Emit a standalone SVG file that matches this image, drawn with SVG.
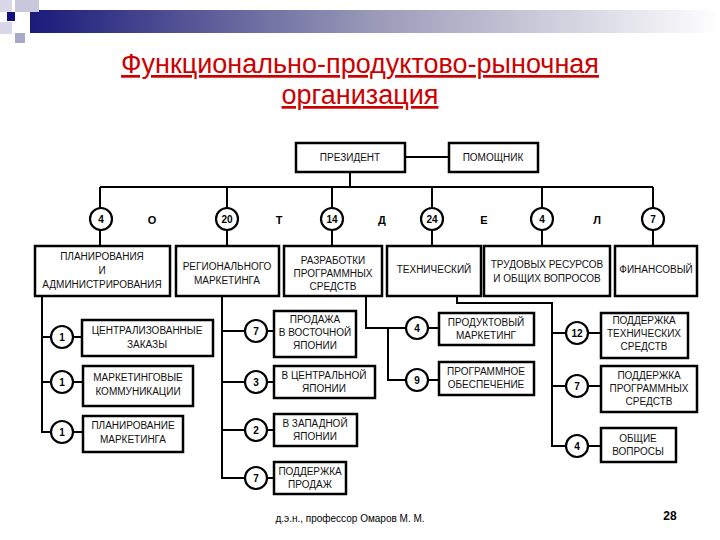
<svg xmlns="http://www.w3.org/2000/svg" width="720" height="540" viewBox="0 0 720 540">
<style>
.b{fill:#fff;stroke:#000;stroke-width:2.5}
.c{fill:#fff;stroke:#000;stroke-width:2.2}
.l{fill:none;stroke:#000;stroke-width:2}
.t{font-family:"Liberation Sans",Arial,sans-serif;font-size:10px;text-anchor:middle;fill:#111}
.n{font-family:"Liberation Sans",Arial,sans-serif;font-size:10px;font-weight:bold;text-anchor:middle;fill:#000}
</style>
<defs>
<linearGradient id="g" x1="0" x2="1" y1="0" y2="0">
<stop offset="0" stop-color="#1a1a7a"/><stop offset="0.5" stop-color="#9a9ab8"/><stop offset="1" stop-color="#ffffff"/>
</linearGradient>
</defs>
<rect width="720" height="540" fill="#fff"/>
<g id="header">
<rect x="30" y="10" width="690" height="23" fill="url(#g)"/>
<rect x="0" y="0" width="12" height="12" fill="#d8d8e8"/>
<rect x="15" y="0" width="24" height="12" fill="#c8c8dc"/>
<rect x="0" y="22" width="12" height="12" fill="#d8d8e8"/>
<rect x="15" y="33" width="10" height="10" fill="#a8a8c8"/>
<rect x="7" y="12" width="8" height="9" fill="#101080"/>
</g>
<g id="title" font-family="'Liberation Sans',Arial,sans-serif" font-size="27" fill="#cc0000" text-anchor="middle" text-decoration="underline">
<text x="360" y="73">Функционально-продуктово-рыночная</text>
<text x="360" y="104">организация</text>
</g>
<g id="connectors">
<path class="l" d="M405 157H449M350 172V187M100 187H653M100 187V246M227 187V246M332 187V246M432 187V246M542 187V246M653 187V246"/>
<path class="l" d="M42 296V432H83M42 337H82M42 382H83"/>
<path class="l" d="M222 296V478H274M222 331H274M222 382H274M222 430H274"/>
<path class="l" d="M366 296V328H439M388 328V380H439"/>
<path class="l" d="M457 296V303H552V446H601M552 333H601M552 386H601"/>
</g>
<g id="president"><rect class="b" x="296" y="143" width="109" height="29"/><text class="t" x="350" y="161">ПРЕЗИДЕНТ</text></g>
<g id="assistant"><rect class="b" x="449" y="143" width="89" height="29"/><text class="t" x="493" y="161">ПОМОЩНИК</text></g>
<g id="top-circles">
<circle class="c" cx="101" cy="219" r="11"/><text class="n" x="101" y="223">4</text>
<circle class="c" cx="227" cy="219" r="11"/><text class="n" x="227" y="223">20</text>
<circle class="c" cx="332" cy="219" r="11"/><text class="n" x="332" y="223">14</text>
<circle class="c" cx="432" cy="219" r="11"/><text class="n" x="432" y="223">24</text>
<circle class="c" cx="542" cy="219" r="11"/><text class="n" x="542" y="223">4</text>
<circle class="c" cx="653" cy="219" r="11"/><text class="n" x="653" y="223">7</text>
</g>
<g id="otdel" font-family="'Liberation Sans',Arial,sans-serif" font-size="11" font-weight="bold" text-anchor="middle">
<text x="152" y="224">О</text><text x="279" y="224">Т</text><text x="382" y="224">Д</text><text x="484" y="224">Е</text><text x="597" y="224">Л</text>
</g>
<g id="planning"><rect class="b" x="35" y="246" width="135" height="50"/><text class="t" x="102" y="260">ПЛАНИРОВАНИЯ</text><text class="t" x="102" y="274">И</text><text class="t" x="102" y="288">АДМИНИСТРИРОВАНИЯ</text></g>
<g id="regional"><rect class="b" x="176" y="246" width="103" height="50"/><text class="t" x="227" y="270">РЕГИОНАЛЬНОГО</text><text class="t" x="227" y="284">МАРКЕТИНГА</text></g>
<g id="software"><rect class="b" x="284" y="246" width="98" height="50"/><text class="t" x="333" y="264">РАЗРАБОТКИ</text><text class="t" x="333" y="277">ПРОГРАММНЫХ</text><text class="t" x="333" y="290">СРЕДСТВ</text></g>
<g id="technical"><rect class="b" x="387" y="246" width="94" height="50"/><text class="t" x="434" y="273">ТЕХНИЧЕСКИЙ</text></g>
<g id="hr"><rect class="b" x="484" y="246" width="126" height="50"/><text class="t" x="547" y="268">ТРУДОВЫХ РЕСУРСОВ</text><text class="t" x="547" y="282">И ОБЩИХ ВОПРОСОВ</text></g>
<g id="finance"><rect class="b" x="615" y="246" width="82" height="50"/><text class="t" x="656" y="273">ФИНАНСОВЫЙ</text></g>

<g id="central-orders"><rect class="b" x="82" y="320" width="131" height="36"/><circle class="c" cx="62" cy="337" r="11"/><text class="n" x="62" y="341">1</text><text class="t" x="147" y="334">ЦЕНТРАЛИЗОВАННЫЕ</text><text class="t" x="147" y="348">ЗАКАЗЫ</text></g>
<g id="mkt-comm"><rect class="b" x="83" y="366" width="110" height="40"/><circle class="c" cx="62" cy="382" r="11"/><text class="n" x="62" y="386">1</text><text class="t" x="138" y="381">МАРКЕТИНГОВЫЕ</text><text class="t" x="138" y="395">КОММУНИКАЦИИ</text></g>
<g id="mkt-plan"><rect class="b" x="83" y="416" width="100" height="36"/><circle class="c" cx="62" cy="432" r="11"/><text class="n" x="62" y="436">1</text><text class="t" x="133" y="429">ПЛАНИРОВАНИЕ</text><text class="t" x="133" y="443">МАРКЕТИНГА</text></g>

<g id="east"><rect class="b" x="274" y="311" width="82" height="46"/><circle class="c" cx="256" cy="331" r="11"/><text class="n" x="256" y="335">7</text><text class="t" x="315" y="323">ПРОДАЖА</text><text class="t" x="315" y="336">В ВОСТОЧНОЙ</text><text class="t" x="315" y="349">ЯПОНИИ</text></g>
<g id="centralj"><rect class="b" x="274" y="366" width="101" height="32"/><circle class="c" cx="256" cy="382" r="11"/><text class="n" x="256" y="386">3</text><text class="t" x="324" y="379">В ЦЕНТРАЛЬНОЙ</text><text class="t" x="324" y="392">ЯПОНИИ</text></g>
<g id="west"><rect class="b" x="274" y="414" width="83" height="32"/><circle class="c" cx="256" cy="430" r="11"/><text class="n" x="256" y="434">2</text><text class="t" x="315" y="427">В ЗАПАДНОЙ</text><text class="t" x="315" y="440">ЯПОНИИ</text></g>
<g id="sales"><rect class="b" x="274" y="462" width="72" height="32"/><circle class="c" cx="256" cy="478" r="11"/><text class="n" x="256" y="482">7</text><text class="t" x="310" y="475">ПОДДЕРЖКА</text><text class="t" x="310" y="488">ПРОДАЖ</text></g>

<g id="product"><rect class="b" x="439" y="313" width="95" height="32"/><circle class="c" cx="417" cy="328" r="11"/><text class="n" x="417" y="332">4</text><text class="t" x="486" y="326">ПРОДУКТОВЫЙ</text><text class="t" x="486" y="339">МАРКЕТИНГ</text></g>
<g id="programs"><rect class="b" x="439" y="362" width="95" height="33"/><circle class="c" cx="417" cy="380" r="11"/><text class="n" x="417" y="384">9</text><text class="t" x="486" y="375">ПРОГРАММНОЕ</text><text class="t" x="486" y="388">ОБЕСПЕЧЕНИЕ</text></g>

<g id="hw-support"><rect class="b" x="601" y="313" width="87" height="45"/><circle class="c" cx="577" cy="333" r="11"/><text class="n" x="577" y="337">12</text><text class="t" x="644" y="324">ПОДДЕРЖКА</text><text class="t" x="644" y="337">ТЕХНИЧЕСКИХ</text><text class="t" x="644" y="350">СРЕДСТВ</text></g>
<g id="sw-support"><rect class="b" x="601" y="366" width="96" height="46"/><circle class="c" cx="577" cy="386" r="11"/><text class="n" x="577" y="390">7</text><text class="t" x="649" y="379">ПОДДЕРЖКА</text><text class="t" x="649" y="392">ПРОГРАММНЫХ</text><text class="t" x="649" y="405">СРЕДСТВ</text></g>
<g id="general"><rect class="b" x="601" y="428" width="75" height="34"/><circle class="c" cx="577" cy="446" r="11"/><text class="n" x="577" y="450">4</text><text class="t" x="638" y="442">ОБЩИЕ</text><text class="t" x="638" y="455">ВОПРОСЫ</text></g>

<g id="footer" font-family="'Liberation Sans',Arial,sans-serif">
<text x="350" y="522" font-size="10" text-anchor="middle">д.э.н., профессор Омаров М. М.</text>
<text x="670" y="520" font-size="12" font-weight="bold" text-anchor="middle">28</text>
</g>
</svg>
